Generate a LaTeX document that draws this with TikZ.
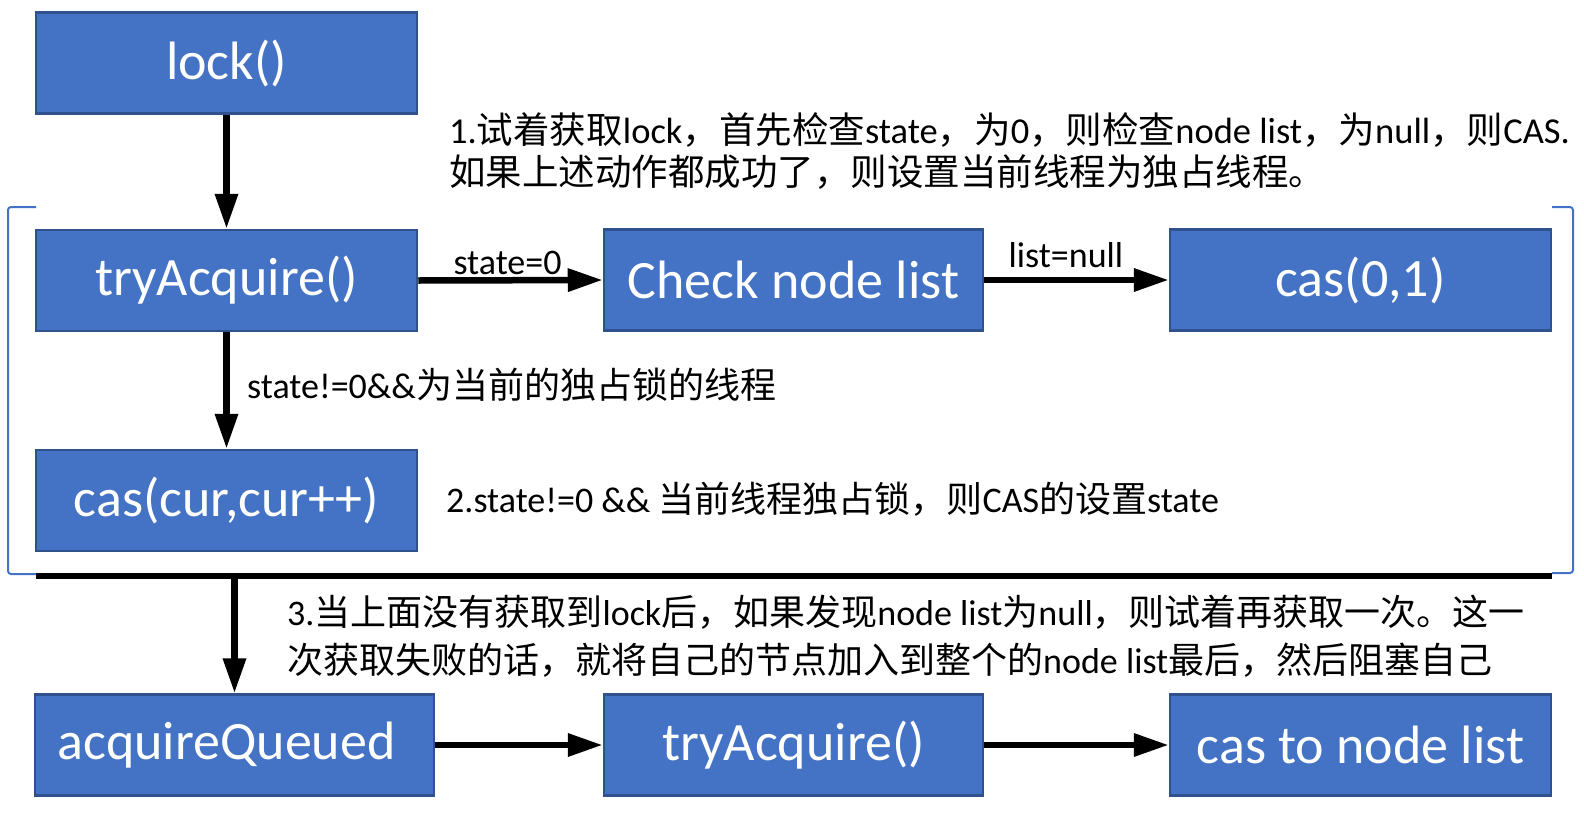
\documentclass[tikz,border=0pt]{standalone}
\usepackage{fontspec}
\setmainfont{Carlito}
\newfontfamily\cjk{Noto Sans CJK SC}
\newcommand\zh[1]{{\cjk #1}}
\usetikzlibrary{arrows.meta}
\definecolor{boxblue}{HTML}{4472C4}
\definecolor{boxedge}{HTML}{2F528F}
\tikzset{
  blk/.style={rectangle, draw=boxedge, fill=boxblue, line width=2.5pt, text=white,
    inner sep=0pt, minimum width=381pt, minimum height=101pt,
    font=\fontsize{54}{60}\selectfont},
  conn/.style={line width=6.5pt, -{Triangle[length=35pt,width=22pt]}},
  note/.style={inner sep=0pt, font=\fontsize{36}{42}\selectfont, anchor=base west},
  lbl/.style={inner sep=0pt, font=\fontsize{36}{42}\selectfont, anchor=base},
  brk/.style={draw=boxblue, line width=2pt, rounded corners=3pt},
}
\begin{document}
\begin{tikzpicture}[x=1pt,y=-1pt]
\fill[white] (0,0) rectangle (1584,814);
\useasboundingbox (0,0) rectangle (1584,814);

% boxes
\node[blk] (lock) at (226.5,63) {lock()};
\node[blk] (try) at (226.5,280.5) {tryAcquire()};
\node[blk] (cur) at (226.5,500.5) {cas(cur,cur++)};
\node[blk, minimum width=379pt] (check) at (793.5,280) {Check node list};
\node[blk] (cas01) at (1360.5,280) {cas(0,1)};
\node[blk, minimum width=399pt] (aq) at (234.5,745) {\hspace*{-16pt}acquireQueued};
\node[blk, minimum width=379pt] (try2) at (793.5,745) {tryAcquire()};
\node[blk] (tolist) at (1360.5,745) {cas to node list};

% bracket
\draw[brk] (36,207) -- (8,207) -- (8,574) -- (36,574);
\draw[brk] (1552,207) -- (1573,207) -- (1573,573) -- (1552,573);

% separator bar
\coordinate (barL) at (36,576);
\coordinate (barR) at (1552,576);
\coordinate (barT) at (234.5,576);
\draw[line width=6.5pt] (barL) -- (barR);

% connectors
\draw[conn] (lock.south) -- (try.north);
\draw[conn] (try.south) -- (cur.north);
\draw[conn] (try.east) -- (check.west);
\draw[conn] (check.east) -- (cas01.west);
\draw[conn] (barT) -- (aq.north);
\draw[conn] (aq.east) -- (try2.west);
\draw[conn] (try2.east) -- (tolist.west);

% labels
\node[lbl] (l1) at (507.5,274) {state=0};
\node[lbl] (l2) at (1066,267) {list=null};
\node[note] (l3) at (247,398) {state!=0\&\&\zh{为当前的独占锁的线程}};

% notes
\node[note, font=\fontsize{36.5}{42}\selectfont] (n1a) at (449,143) {1.\zh{试着获取}lock\zh{，首先检查}state\zh{，为}0\zh{，则检查}node list\zh{，为}null\zh{，则}CAS.};
\node[note, font=\fontsize{36.5}{42}\selectfont] (n1b) at (449,185) {\zh{如果上述动作都成功了，则设置当前线程为独占线程。}};
\node[note] (n2) at (446,512) {2.state!=0 \&\& \zh{当前线程独占锁，则}CAS\zh{的设置}state};
\node[note] (n3a) at (287,625) {3.\zh{当上面没有获取到}lock\zh{后，如果发现}node list\zh{为}null\zh{，则试着再获取一次。这一}};
\node[note] (n3b) at (287,673) {\zh{次获取失败的话，就将自己的节点加入到整个的}node list\zh{最后，然后阻塞自己}};
\end{tikzpicture}
\end{document}
